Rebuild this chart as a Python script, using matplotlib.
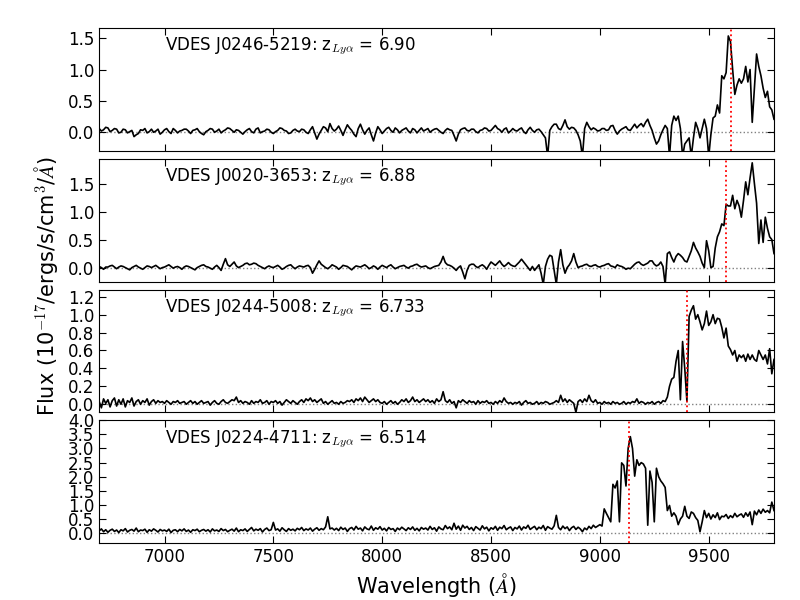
"""VDES z>6.5 quasar spectra, four stacked panels (classic mpl look)."""
import numpy as np
import matplotlib
matplotlib.use('Agg')
import matplotlib.pyplot as plt

# ── data ──
names = ['VDES J0246-5219', 'VDES J0020-3653', 'VDES J0244-5008', 'VDES J0224-4711']
z_lya = ['6.90', '6.88', '6.733', '6.514']
lya_rest = 1215.67

wave_start, wave_end, wave_step = 6700, 9800, 10

flux_j0246 = [
    0.05, 0.01, 0.03, 0.07, 0.06, 0.00, 0.02, 0.05, 0.04, -0.02,
    -0.01, 0.04, 0.03, -0.02, 0.00, 0.02, -0.08, -0.05, -0.03, 0.03,
    0.02, 0.05, -0.02, 0.00, 0.04, -0.01, 0.01, 0.04, -0.04, -0.01,
    0.03, 0.05, 0.00, -0.03, 0.05, 0.02, -0.02, 0.01, 0.02, 0.04,
    0.04, 0.01, -0.03, 0.02, 0.03, 0.05, 0.00, -0.03, -0.05, 0.00,
    0.02, 0.05, 0.04, -0.01, 0.01, 0.04, -0.02, 0.01, 0.03, 0.06,
    0.05, 0.02, -0.01, 0.03, 0.02, -0.01, -0.04, 0.00, 0.03, 0.05,
    0.00, -0.02, 0.04, 0.06, -0.02, 0.00, 0.01, 0.04, 0.03, -0.01,
    -0.03, 0.00, 0.02, 0.06, 0.05, 0.02, 0.01, -0.03, -0.02, 0.02,
    0.04, 0.01, 0.00, 0.04, 0.03, -0.01, -0.03, 0.03, 0.08, -0.02,
    -0.12, -0.04, 0.02, 0.08, 0.06, 0.00, 0.13, 0.05, 0.01, 0.04,
    0.09, 0.02, -0.06, 0.03, 0.11, 0.06, 0.02, -0.04, -0.08, 0.05,
    0.12, 0.03, -0.04, 0.02, 0.06, -0.05, -0.15, -0.02, 0.08, 0.03,
    -0.03, 0.01, 0.05, 0.07, 0.02, -0.01, 0.06, 0.03, -0.02, 0.02,
    0.04, 0.06, 0.01, -0.02, 0.05, 0.03, -0.02, 0.02, 0.06, 0.01,
    0.03, 0.05, -0.01, 0.02, 0.04, 0.05, 0.02, -0.01, -0.03, 0.02,
    0.05, 0.03, 0.02, -0.06, -0.15, -0.04, 0.03, 0.05, 0.06, 0.02,
    0.01, 0.04, 0.04, 0.00, -0.02, 0.02, 0.03, 0.06, 0.05, 0.01,
    0.02, 0.06, 0.10, 0.05, 0.03, -0.01, 0.04, 0.06, -0.02, 0.01,
    0.05, 0.02, 0.01, 0.04, 0.06, 0.00, -0.03, 0.03, 0.07, 0.02,
    -0.01, 0.03, 0.04, 0.00, -0.05, -0.10, -0.40, 0.02, 0.08, 0.12,
    0.12, 0.05, 0.03, 0.10, 0.19, 0.08, 0.04, 0.07, 0.06, 0.02,
    -0.05, -0.15, -0.40, 0.05, 0.15, 0.08, 0.03, 0.06, 0.04, 0.01,
    0.02, 0.05, 0.05, 0.02, 0.03, 0.09, 0.10, 0.02, -0.04, 0.01,
    0.04, 0.06, 0.08, 0.03, 0.02, 0.07, 0.12, 0.06, 0.10, 0.13,
    0.08, 0.15, 0.20, 0.10, 0.02, -0.10, -0.20, -0.15, -0.05, 0.03,
    0.10, 0.05, -0.40, 0.10, 0.25, 0.18, 0.25, 0.05, -0.40, -0.20,
    -0.15, -0.10, -0.40, -0.10, 0.15, 0.05, -0.10, 0.05, 0.20, 0.05,
    -0.40, -0.05, 0.22, 0.25, 0.43, 0.30, 0.90, 0.85, 0.95, 1.54,
    1.45, 1.00, 0.60, 0.75, 0.85, 0.78, 0.85, 1.05, 0.80, 1.00,
    0.15, 0.70, 1.25, 1.05, 0.90, 0.70, 0.55, 0.65, 0.40, 0.35,
    0.20,
]

flux_j0020 = [
    0.02, 0.00, -0.03, 0.01, 0.01, 0.03, 0.04, 0.01, -0.02, 0.01,
    0.03, 0.02, 0.00, -0.02, -0.04, 0.00, 0.02, 0.04, 0.01, -0.01,
    -0.03, 0.00, 0.03, 0.02, 0.00, 0.02, 0.04, 0.01, -0.02, 0.00,
    0.01, 0.03, 0.05, 0.02, -0.01, 0.01, 0.02, 0.00, -0.03, 0.01,
    0.03, 0.02, 0.00, -0.02, -0.04, 0.00, 0.02, 0.04, 0.05, 0.02,
    0.01, -0.01, -0.03, 0.01, 0.04, 0.00, -0.05, 0.06, 0.16, 0.05,
    0.02, 0.06, 0.10, 0.03, 0.00, 0.02, 0.04, 0.07, 0.08, 0.05,
    0.06, 0.08, 0.07, 0.04, 0.02, 0.00, -0.02, 0.01, 0.03, 0.01,
    0.00, 0.02, 0.04, 0.01, -0.03, -0.01, 0.02, 0.04, 0.05, 0.01,
    -0.02, 0.01, 0.03, 0.02, 0.01, 0.03, 0.04, 0.00, -0.10, -0.03,
    0.05, 0.12, 0.06, 0.03, 0.00, -0.02, 0.01, 0.05, 0.03, 0.01,
    -0.03, 0.00, 0.04, 0.03, 0.02, -0.01, -0.04, 0.00, 0.03, 0.02,
    0.01, 0.03, 0.05, 0.02, -0.02, 0.00, 0.03, 0.01, -0.03, 0.01,
    0.04, 0.02, 0.00, 0.03, 0.05, 0.01, -0.02, 0.00, 0.02, 0.03,
    0.04, 0.01, -0.01, 0.02, 0.03, 0.05, 0.06, 0.03, 0.01, 0.02,
    0.03, 0.00, -0.02, 0.00, 0.02, 0.03, 0.04, 0.10, 0.20, 0.09,
    0.05, 0.04, 0.02, -0.01, -0.05, 0.00, 0.03, -0.08, -0.20, -0.05,
    0.04, 0.06, 0.06, 0.02, 0.00, 0.03, 0.05, 0.02, -0.03, 0.04,
    0.10, 0.07, 0.04, 0.08, 0.12, 0.06, 0.02, 0.05, 0.09, 0.05,
    0.03, 0.02, 0.06, 0.10, 0.15, 0.10, 0.05, 0.00, -0.05, 0.02,
    -0.05, 0.00, 0.05, -0.10, -0.30, 0.02, 0.15, 0.22, 0.20, -0.05,
    -0.30, 0.10, 0.32, 0.05, -0.10, 0.00, 0.05, 0.12, 0.25, 0.10,
    0.00, 0.02, 0.03, 0.05, 0.06, 0.03, 0.02, 0.04, 0.05, 0.02,
    0.01, 0.03, 0.04, 0.06, 0.07, 0.03, 0.02, 0.00, 0.05, 0.03,
    0.02, 0.00, -0.03, -0.01, -0.02, 0.02, 0.06, 0.09, 0.10, 0.06,
    0.04, 0.06, 0.08, 0.12, 0.12, 0.06, 0.03, 0.05, 0.10, 0.02,
    -0.30, 0.25, 0.28, 0.18, 0.10, 0.20, 0.25, 0.22, 0.18, 0.12,
    0.10, 0.20, 0.30, 0.45, 0.35, 0.28, 0.20, 0.08, 0.00, 0.48,
    0.30, 0.00, 0.02, 0.35, 0.55, 0.64, 0.78, 0.75, 1.13, 1.10,
    1.10, 1.29, 1.05, 1.20, 1.10, 0.90, 1.20, 1.53, 1.30, 1.60,
    1.87, 1.50, 1.15, 0.43, 0.85, 0.45, 0.90, 0.70, 0.55, 0.50,
    0.25,
]

flux_j0244 = [
    0.03, -0.04, 0.06, 0.01, 0.05, -0.03, 0.04, 0.07, -0.02, 0.05,
    0.00, 0.06, -0.03, 0.04, 0.02, 0.07, -0.02, 0.03, 0.05, 0.00,
    0.04, 0.02, 0.06, -0.01, 0.03, 0.05, 0.01, 0.04, 0.02, 0.03,
    0.01, 0.04, 0.02, 0.00, 0.03, 0.02, 0.04, 0.01, 0.02, 0.03,
    0.00, 0.02, 0.04, 0.01, 0.03, 0.00, 0.02, 0.04, 0.01, 0.02,
    0.03, -0.01, 0.02, 0.04, 0.01, 0.00, 0.03, 0.05, 0.02, 0.01,
    0.03, 0.05, 0.04, 0.08, 0.02, 0.04, 0.01, 0.03, 0.02, 0.00,
    0.04, 0.01, 0.03, 0.02, 0.05, 0.01, 0.02, 0.04, 0.00, 0.03,
    0.02, 0.04, 0.01, 0.03, -0.01, 0.02, 0.05, 0.03, 0.01, 0.04,
    0.02, 0.00, 0.03, 0.05, 0.02, 0.06, 0.04, 0.07, 0.03, 0.05,
    0.02, 0.04, 0.06, 0.01, 0.03, 0.00, 0.02, 0.04, 0.01, 0.02,
    0.00, 0.03, 0.01, 0.02, 0.04, 0.03, 0.05, 0.02, 0.06, 0.04,
    0.07, 0.03, 0.08, 0.05, 0.02, 0.04, 0.06, 0.03, 0.05, 0.02,
    0.01, 0.03, 0.00, 0.02, 0.04, 0.01, 0.03, 0.00, 0.02, 0.05,
    0.03, 0.06, 0.02, 0.04, 0.08, 0.03, 0.05, 0.02, 0.04, 0.06,
    0.03, 0.05, 0.02, 0.04, 0.01, 0.06, 0.03, 0.05, 0.14, 0.04,
    0.02, 0.05, 0.01, 0.03, -0.04, 0.04, 0.02, 0.05, 0.03, 0.01,
    0.04, 0.02, 0.03, 0.00, 0.04, 0.01, 0.03, 0.02, 0.04, 0.01,
    0.02, 0.00, 0.03, 0.01, 0.04, 0.02, 0.07, 0.03, 0.01, 0.02,
    0.00, 0.02, 0.01, 0.03, -0.01, 0.02, 0.04, 0.01, 0.02, 0.00,
    0.01, 0.03, 0.00, 0.02, 0.01, 0.03, 0.02, 0.00, 0.01, 0.02,
    0.04, 0.02, 0.10, 0.03, 0.06, 0.02, 0.05, 0.03, 0.01, -0.09,
    0.03, 0.05, 0.02, 0.06, 0.03, 0.10, 0.04, 0.02, 0.05, 0.01,
    0.02, 0.00, 0.03, 0.01, 0.02, 0.00, 0.03, 0.01, 0.02, 0.00,
    0.01, 0.03, 0.00, 0.02, 0.01, 0.03, 0.02, 0.06, 0.01, 0.03,
    0.02, 0.00, 0.02, 0.01, 0.03, 0.00, 0.02, 0.03, 0.01, 0.04,
    0.03, 0.08, 0.20, 0.28, 0.30, 0.48, 0.60, 0.05, 0.70, 0.40,
    0.03, 0.98, 1.05, 1.10, 0.95, 1.00, 0.92, 0.83, 0.90, 1.04,
    0.88, 0.92, 1.00, 0.90, 0.96, 0.95, 0.86, 0.74, 0.85, 0.65,
    0.61, 0.55, 0.60, 0.48, 0.55, 0.52, 0.55, 0.48, 0.56, 0.50,
    0.55, 0.50, 0.48, 0.60, 0.55, 0.50, 0.55, 0.45, 0.62, 0.34,
    0.50,
]

flux_j0224 = [
    0.08, 0.15, 0.05, 0.12, 0.03, 0.10, 0.14, 0.06, 0.11, 0.02,
    0.12, 0.08, 0.16, 0.04, 0.10, 0.13, 0.07, 0.18, 0.05, 0.11,
    0.09, 0.14, 0.03, 0.12, 0.07, 0.15, 0.10, 0.04, 0.13, 0.08,
    0.11, 0.06, 0.14, 0.02, 0.10, 0.12, 0.05, 0.13, 0.08, 0.15,
    0.06, 0.11, 0.03, 0.12, 0.09, 0.14, 0.05, 0.10, 0.13, 0.07,
    0.12, 0.04, 0.15, 0.08, 0.11, 0.06, 0.16, 0.09, 0.13, 0.05,
    0.10, 0.14, 0.07, 0.18, 0.05, 0.12, 0.09, 0.15, 0.06, 0.13,
    0.20, 0.08, 0.14, 0.10, 0.16, 0.04, 0.13, 0.18, 0.09, 0.12,
    0.38, 0.11, 0.15, 0.07, 0.19, 0.12, 0.06, 0.16, 0.10, 0.14,
    0.08, 0.17, 0.12, 0.20, 0.09, 0.15, 0.11, 0.18, 0.07, 0.14,
    0.19, 0.10, 0.16, 0.12, 0.22, 0.58, 0.15, 0.18, 0.11, 0.17,
    0.09, 0.21, 0.13, 0.18, 0.06, 0.16, 0.20, 0.11, 0.24, 0.14,
    0.18, 0.08, 0.22, 0.15, 0.12, 0.25, 0.10, 0.19, 0.14, 0.23,
    0.11, 0.17, 0.08, 0.20, 0.13, 0.16, 0.06, 0.18, 0.12, 0.21,
    0.15, 0.09, 0.19, 0.13, 0.22, 0.10, 0.17, 0.08, 0.20, 0.14,
    0.18, 0.11, 0.24, 0.13, 0.19, 0.07, 0.22, 0.15, 0.12, 0.27,
    0.16, 0.22, 0.12, 0.35, 0.14, 0.25, 0.10, 0.28, 0.18, 0.24,
    0.13, 0.20, 0.09, 0.23, 0.17, 0.11, 0.26, 0.15, 0.21, 0.08,
    0.19, 0.14, 0.24, 0.10, 0.21, 0.16, 0.27, 0.12, 0.18, 0.22,
    0.09, 0.20, 0.15, 0.25, 0.11, 0.22, 0.17, 0.28, 0.13, 0.19,
    0.24, 0.12, 0.21, 0.16, 0.27, 0.10, 0.23, 0.18, 0.14, 0.26,
    0.63, 0.20, 0.12, 0.25, 0.16, 0.22, 0.09, 0.19, 0.24, 0.13,
    0.21, 0.15, 0.05, 0.18, 0.12, 0.24, 0.16, 0.28, 0.20, 0.25,
    0.30, 0.25, 0.86, 0.70, 0.55, 0.40, 1.73, 1.60, 1.85, 0.40,
    2.49, 2.40, 1.67, 3.01, 3.42, 3.00, 2.02, 2.60, 2.40, 2.50,
    2.45, 2.30, 0.28, 2.20, 1.80, 0.40, 2.30, 2.00, 1.85, 1.75,
    1.62, 0.80, 0.98, 0.60, 0.72, 0.60, 0.30, 0.50, 0.60, 0.95,
    0.60, 0.52, 0.75, 0.70, 0.55, 0.45, 0.05, 0.40, 0.80, 0.55,
    0.70, 0.50, 0.65, 0.55, 0.72, 0.48, 0.60, 0.58, 0.66, 0.52,
    0.62, 0.55, 0.70, 0.58, 0.64, 0.68, 0.56, 0.72, 0.60, 0.75,
    0.30, 0.78, 0.65, 0.82, 0.70, 0.85, 0.74, 0.80, 0.72, 1.10,
    0.80,
]

ylims = [(-0.31, 1.665), (-0.25, 1.94), (-0.09, 1.28), (-0.35, 4.0)]
yticks = [[0.0, 0.5, 1.0, 1.5],
          [0.0, 0.5, 1.0, 1.5],
          [0.0, 0.2, 0.4, 0.6, 0.8, 1.0, 1.2],
          [0.0, 0.5, 1.0, 1.5, 2.0, 2.5, 3.0, 3.5, 4.0]]
xticks = [7000, 7500, 8000, 8500, 9000, 9500]


def main():
    plt.rcParams['mathtext.fontset'] = 'cm'
    plt.rcParams['font.family'] = ['DejaVu Sans']

    wave = np.arange(wave_start, wave_end + 1, wave_step)
    spectra = [flux_j0246, flux_j0020, flux_j0244, flux_j0224]

    fig, axes = plt.subplots(4, 1, figsize=(8, 6), dpi=100, sharex=True)
    fig.subplots_adjust(left=0.124, right=0.9675, top=0.953, bottom=0.095,
                        hspace=0.065)

    for k, ax in enumerate(axes):
        ax.axhline(0, color='gray', ls=':', lw=1.0, zorder=1)
        ax.plot(wave, spectra[k], color='k', lw=1.2, zorder=2)
        lam = lya_rest * (1 + float(z_lya[k]))
        ax.axvline(lam, color='r', ls=':', lw=1.3, zorder=3)
        # 라벨: x 는 데이터좌표(7000 Å), y 는 축 비율
        ax.text(7000, 0.85, f'{names[k]}: z$_{{Ly\\alpha}}$ = {z_lya[k]}',
                transform=ax.get_xaxis_transform(), fontsize=12,
                va='center', ha='left')
        ax.set_xlim(wave_start, wave_end)
        ax.set_ylim(*ylims[k])
        ax.set_yticks(yticks[k])
        ax.set_yticklabels([f'{t:.1f}' for t in yticks[k]])
        ax.tick_params(direction='in', top=True, right=True, length=5,
                       labelsize=12)

    axes[-1].set_xticks(xticks)
    axes[-1].set_xlabel(r'Wavelength ($\AA$)', fontsize=15)
    fig.text(0.058, 0.524, r'Flux (10$^{-17}$/ergs/s/cm$^3$/$\AA$)',
             rotation=90, fontsize=15, ha='center', va='center')

    fig.savefig('out.png', dpi=100)


if __name__ == '__main__':
    main()
